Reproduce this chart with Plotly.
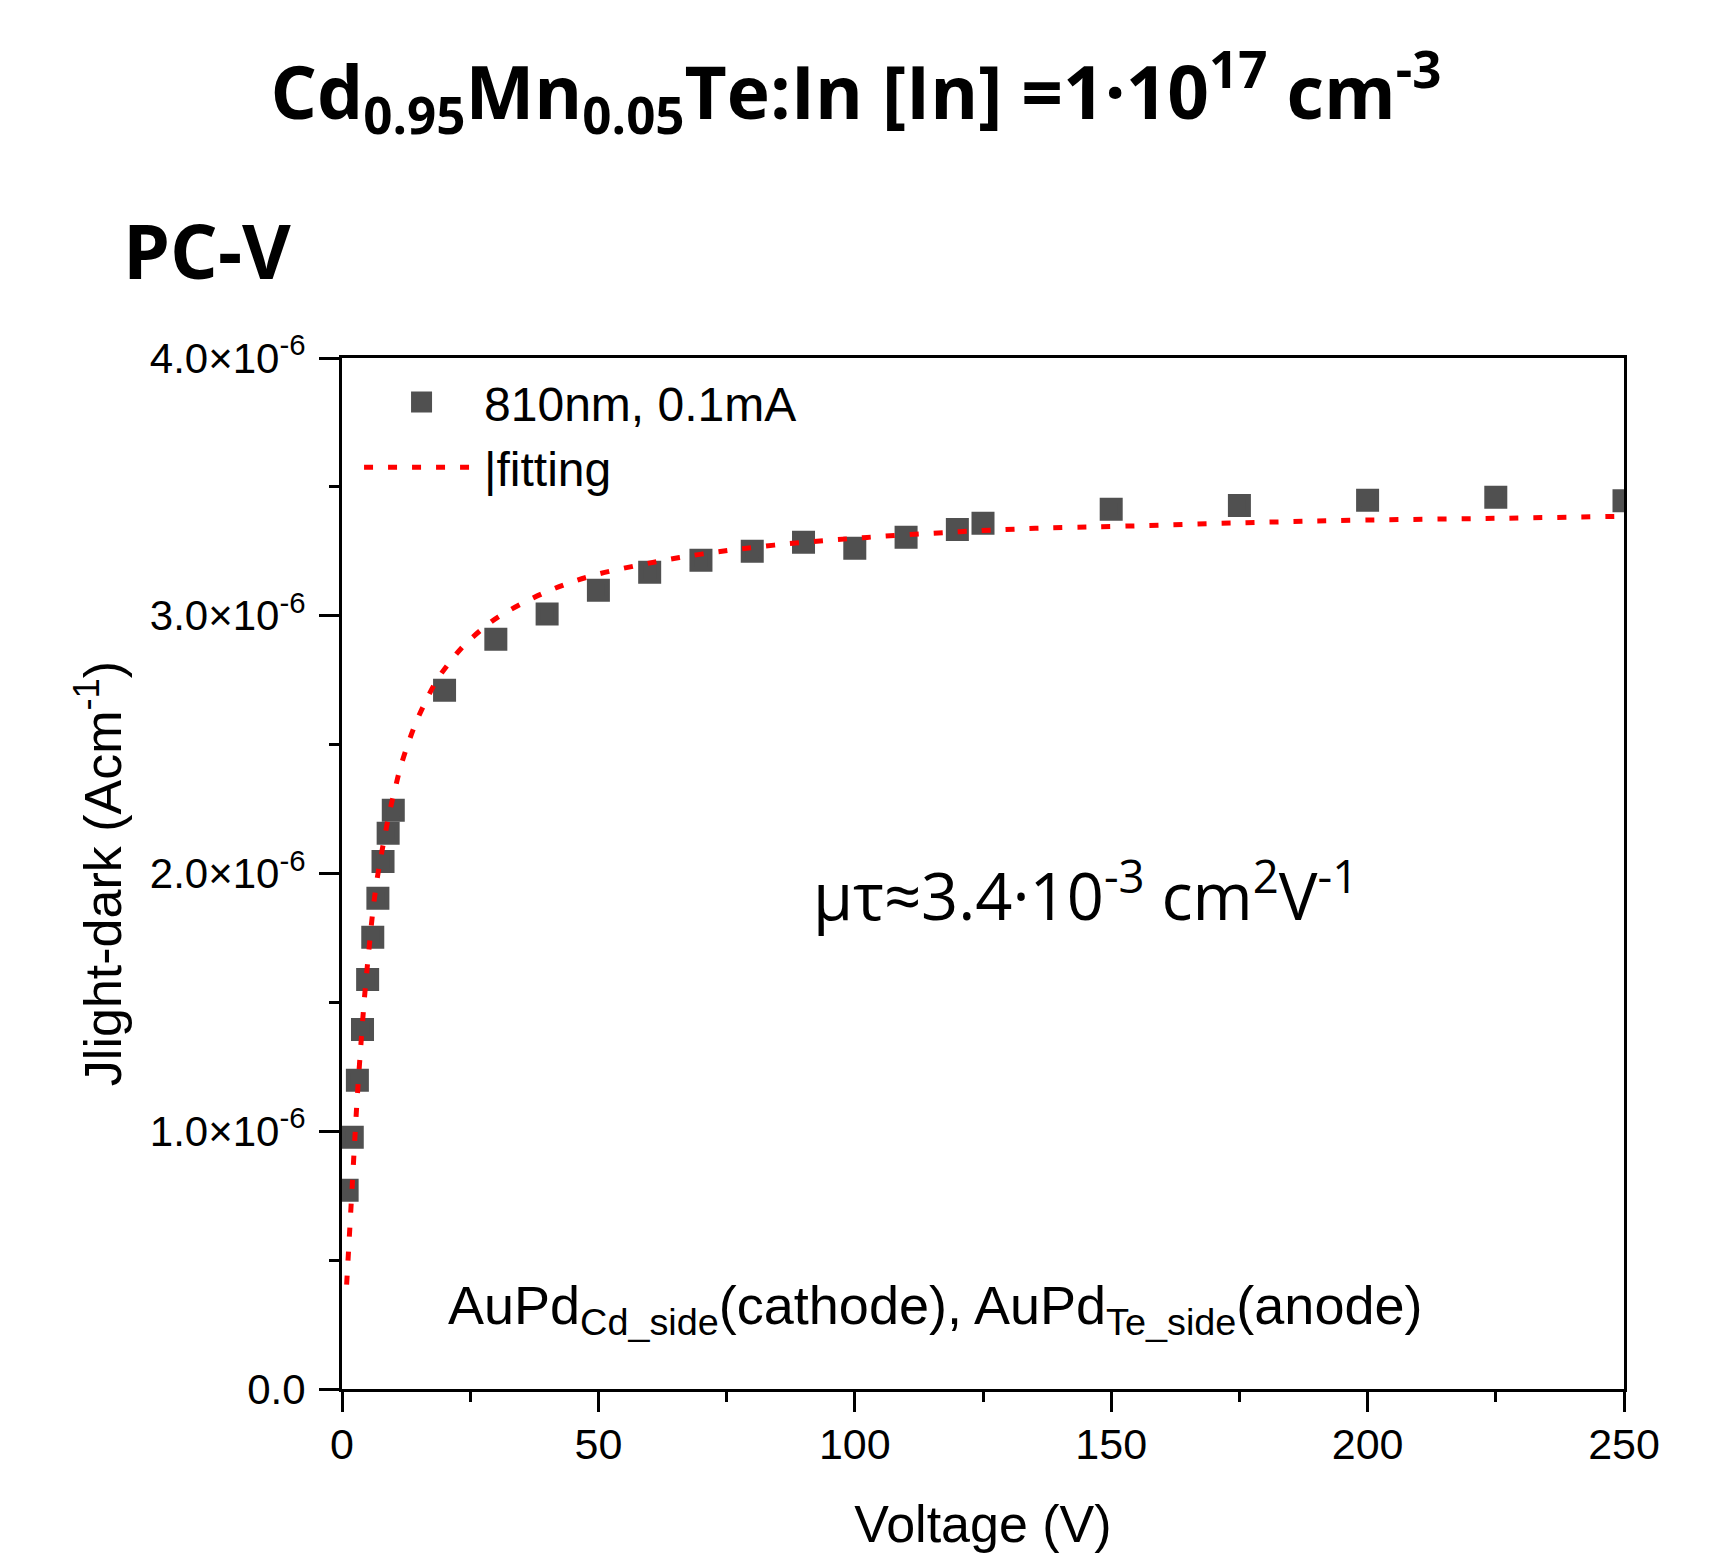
import plotly.graph_objects as go

# ---- data ----
voltage = [1, 2, 3, 4, 5, 6, 7, 8, 9, 10, 20, 30, 40, 50, 60, 70, 80, 90, 100,
           110, 120, 125, 150, 175, 200, 225, 250]
j_light_dark = [0.771e-6, 0.977e-6, 1.198e-6, 1.395e-6, 1.589e-6, 1.753e-6, 1.904e-6,
                2.047e-6, 2.156e-6, 2.245e-6, 2.711e-6, 2.909e-6, 3.007e-6, 3.099e-6,
                3.169e-6, 3.215e-6, 3.250e-6, 3.285e-6, 3.262e-6, 3.305e-6, 3.335e-6,
                3.359e-6, 3.413e-6, 3.428e-6, 3.448e-6, 3.460e-6, 3.446e-6]

fit_voltage = [0.9, 1.17, 1.43, 1.69, 1.95, 2.47, 2.99, 3.64, 4.35, 5.2, 6.11, 6.9,
               7.54, 8.39, 9.23, 10.3, 11.3, 12.8, 14.4, 16.3, 18.5, 21.1, 23.9, 27.6,
               30.5, 39.2, 48.2, 61.4, 70.4, 84.3, 102.4, 120.5, 135.2, 153.3, 176.3,
               199.3, 225.4, 250]
fit_j = [0.405e-6, 0.498e-6, 0.590e-6, 0.683e-6, 0.774e-6, 0.961e-6, 1.137e-6, 1.324e-6,
         1.511e-6, 1.695e-6, 1.870e-6, 1.985e-6, 2.060e-6, 2.150e-6, 2.235e-6, 2.324e-6,
         2.405e-6, 2.499e-6, 2.584e-6, 2.667e-6, 2.750e-6, 2.822e-6, 2.887e-6, 2.953e-6,
         2.996e-6, 3.087e-6, 3.152e-6, 3.210e-6, 3.240e-6, 3.274e-6, 3.304e-6, 3.326e-6,
         3.339e-6, 3.348e-6, 3.361e-6, 3.371e-6, 3.378e-6, 3.386e-6]

x_ticks = [0, 50, 100, 150, 200, 250]
y_ticks = [0, 1e-6, 2e-6, 3e-6, 4e-6]
y_ticktext = ["0.0", "1.0×10<sup>-6</sup>", "2.0×10<sup>-6</sup>",
              "3.0×10<sup>-6</sup>", "4.0×10<sup>-6</sup>"]

series_name = "810nm, 0.1mA"
fit_name = "|fitting"

ARIAL = "Liberation Sans, Arial, sans-serif"
CAL = "Open Sans, Noto Sans, sans-serif"

fig = go.Figure()
fig.add_trace(go.Scatter(
    x=voltage, y=j_light_dark, mode="markers", name=series_name,
    marker=dict(symbol="square", size=18, color="#505050",
                line=dict(width=5, color="#505050")),
))
fig.add_trace(go.Scatter(
    x=fit_voltage, y=fit_j, mode="lines", name=fit_name,
    line=dict(color="#ff0000", width=5, dash="9px,15px", shape="spline"),
))

axis_common = dict(
    showline=True, linewidth=3, linecolor="black", mirror=True,
    ticks="outside", ticklen=20, tickwidth=3, tickcolor="black",
    showgrid=False, zeroline=False,
)

fig.update_xaxes(
    **axis_common,
    range=[0, 250], tickvals=x_ticks,
    tickfont=dict(family=ARIAL, size=43, color="black"),
    ticklabelstandoff=-5,
    minor=dict(ticks="outside", ticklen=10, tickwidth=3, tickcolor="black",
               dtick=25, tick0=0, showgrid=False),
    title=dict(text="Voltage (V)", font=dict(family=ARIAL, size=52, color="black"),
               standoff=40),
)
fig.update_yaxes(
    **axis_common,
    range=[0, 4e-6], tickvals=y_ticks, ticktext=y_ticktext,
    tickfont=dict(family=ARIAL, size=42, color="black"),
    ticklabelstandoff=5,
    minor=dict(ticks="outside", ticklen=10, tickwidth=3, tickcolor="black",
               dtick=0.5e-6, tick0=0, showgrid=False),
    title=dict(text="Jlight-dark (Acm<sup>-1</sup>)",
               font=dict(family=ARIAL, size=52, color="black"), standoff=12),
)

fig.update_layout(
    width=1718, height=1554,
    margin=dict(l=334, r=102, t=350, b=173, autoexpand=False),
    paper_bgcolor="white", plot_bgcolor="white",
    title=dict(
        text="<b>Cd<sub>0.95</sub>Mn<sub>0.05</sub>Te:In [In] =1·10<sup>17</sup> cm<sup>-3</sup></b>",
        font=dict(family=CAL, size=73, color="black"),
        x=848 / 1718, xanchor="center", xref="container",
        y=1 - 85 / 1554, yanchor="middle", yref="container",
    ),
    legend=dict(
        x=0.0133, y=0.994, xanchor="left", yanchor="top",
        bgcolor="rgba(0,0,0,0)", borderwidth=0,
        font=dict(family=ARIAL, size=48, color="black"),
        itemwidth=115, itemsizing="trace", tracegroupgap=0,
    ),
    showlegend=True,
    annotations=[
        dict(text="<b>PC-V</b>", xref="paper", yref="paper",
             x=(121 - 342) / 1282, y=1 + (358 - 250) / 1031,
             xanchor="left", yanchor="middle", showarrow=False,
             font=dict(family=CAL, size=75, color="black")),
        dict(text="μτ≈3.4·10<sup>-3</sup> cm<sup>2</sup>V<sup>-1</sup>",
             xref="x", yref="y", x=145, y=1.93e-6,
             xanchor="center", yanchor="middle", showarrow=False,
             font=dict(family=CAL, size=65, color="black")),
        dict(text="AuPd<sub>Cd_side</sub>(cathode), AuPd<sub>Te_side</sub>(anode)",
             xref="x", yref="y", x=115.6, y=0.31e-6,
             xanchor="center", yanchor="middle", showarrow=False,
             font=dict(family=ARIAL, size=54, color="black")),
    ],
)

fig.write_html("out.html")
